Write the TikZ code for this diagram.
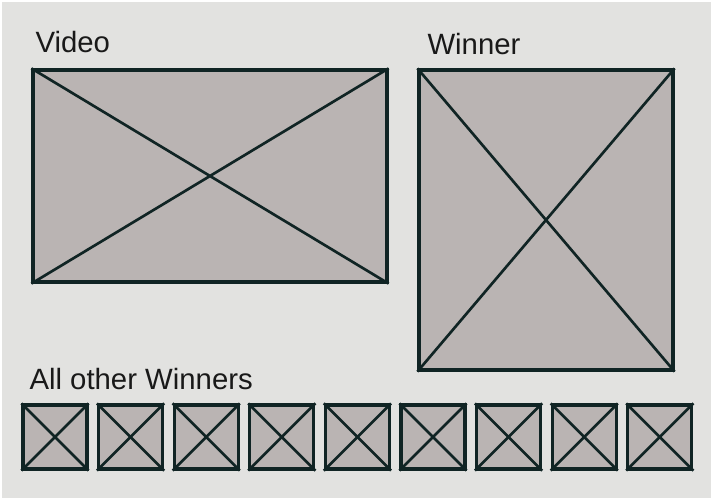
\documentclass[tikz,border=0pt]{standalone}
\usepackage{fontspec}
\setmainfont{Liberation Sans}
\definecolor{pagegray}{RGB}{226,226,224}
\definecolor{boxfill}{RGB}{186,180,179}
\definecolor{boxline}{RGB}{16,36,36}
\tikzset{every picture/.style={line width=0.75pt}}
\tikzset{
  thumb/.style={draw=boxline, fill=boxfill, line width=2.4pt, inner sep=0pt, minimum width=64*0.75pt, minimum height=64*0.75pt},
  cross/.style={draw=boxline, line width=2pt},
  caption/.style={anchor=base west, inner sep=0pt, font=\fontsize{22}{26}\selectfont, text=black!90}
}
\begin{document}
\begin{tikzpicture}[x=0.75pt,y=0.75pt,yscale=-1,xscale=1]
\useasboundingbox (0,0) rectangle (711,498);
%Background
\fill [white] (0,0) rectangle (711,498);
\fill [pagegray] (2,2) rectangle (711,498);

%Video placeholder
\node [thumb, minimum width=354*0.75pt, minimum height=212*0.75pt] (video) at (210,176) {};
\draw [cross] (video.north west) -- (video.south east);
\draw [cross] (video.south west) -- (video.north east);

%Winner placeholder
\node [thumb, minimum width=254*0.75pt, minimum height=300*0.75pt] (winner) at (546,220) {};
\draw [cross] (winner.north west) -- (winner.south east);
\draw [cross] (winner.south west) -- (winner.north east);

%Row of other winners
\foreach \i in {1,...,9} {
  \node [thumb] (other\i) at (55+75.6*\i-75.6,437) {};
  \draw [cross] (other\i.north west) -- (other\i.south east);
  \draw [cross] (other\i.south west) -- (other\i.north east);
}

% Text Node
\node [caption] (videolabel) at (35,53) {Video};
% Text Node
\node [caption] (winnerlabel) at (427,55) {Winner};
% Text Node
\node [caption] (otherlabel) at (29,390) {All other Winners};

\end{tikzpicture}
\end{document}
